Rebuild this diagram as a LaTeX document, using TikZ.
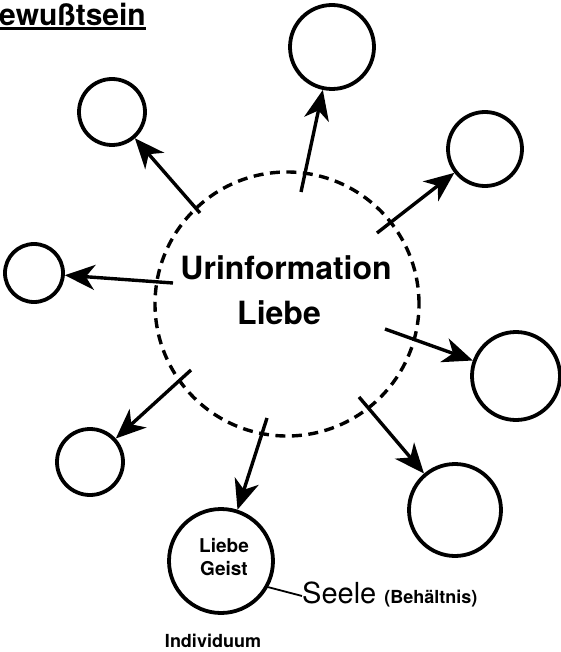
\documentclass[tikz,border=0pt]{standalone}
\usepackage{fontspec}
\setmainfont{TeX Gyre Heros}
\usetikzlibrary{arrows.meta}

\tikzset{
  seele/.style={draw,circle,line width=3.8pt,inner sep=0pt,minimum size=#1},
  pfeil/.style={-{Stealth[length=30pt,width=25pt,inset=9pt]},line width=3.4pt},
  wort/.style={inner sep=0pt,anchor=base},
}

\begin{document}
\begin{tikzpicture}[x=1pt,y=-1pt]
  \useasboundingbox (0,0) rectangle (561,652);

  % title
  \node[wort,anchor=base west] (titel) at (-1,26) {\fontsize{30}{32}\selectfont\bfseries ewußtsein};
  \draw[line width=3pt] ([yshift=-3pt]titel.base west) -- ([yshift=-3pt]titel.base east);

  % centre
  \draw[line width=3.4pt,dash pattern=on 10pt off 6.5pt] (287,304) circle (132pt);
  \node[wort] (urinfo) at (286,279) {\fontsize{32}{34}\selectfont\bfseries Urinformation};
  \node[wort] (liebe) at (279,324) {\fontsize{32}{34}\selectfont\bfseries Liebe};

  % satellites
  \node[seele=66pt] (c1) at (112,112) {};
  \node[seele=84pt] (c2) at (332,47) {};
  \node[seele=74pt] (c3) at (485,149) {};
  \node[seele=58pt] (c4) at (34,273) {};
  \node[seele=88pt] (c5) at (516,376) {};
  \node[seele=66pt] (c6) at (90,462) {};
  \node[seele=92pt] (c7) at (455,510) {};
  \node[seele=104pt] (c8) at (221,561) {};

  % arrow starts
  \coordinate (s1) at (200,213);
  \coordinate (s2) at (301,192);
  \coordinate (s3) at (377,233);
  \coordinate (s4) at (173,283);
  \coordinate (s5) at (385,329);
  \coordinate (s6) at (191,370);
  \coordinate (s7) at (359,397);
  \coordinate (s8) at (267,418);

  \foreach \i in {1,...,8}
    \draw[pfeil] (s\i) -- (c\i);

  % individual
  \node[wort] (lb) at (224,552) {\fontsize{19}{20}\selectfont\bfseries Liebe};
  \node[wort] (gs) at (224,575) {\fontsize{19}{20}\selectfont\bfseries Geist};
  \node[wort,anchor=base west] (sl) at (302,603) {\fontsize{29}{30}\selectfont Seele\ \fontsize{18}{20}\selectfont\bfseries(Behältnis)};
  \node[wort] (ind) at (213,647) {\fontsize{18}{20}\selectfont\bfseries Individuum};
  \draw[line width=1.8pt] (c8.-29) -- ([yshift=-2pt]sl.west);
\end{tikzpicture}
\end{document}
